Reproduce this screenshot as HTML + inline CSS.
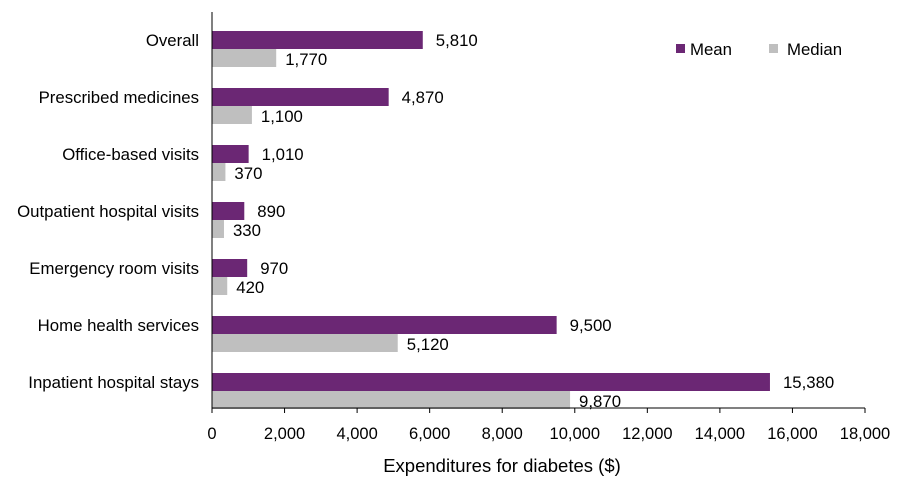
<!DOCTYPE html>
<html><head><meta charset="utf-8"><style>
body{margin:0;background:#fff;}
svg{font-family:"Liberation Sans",Arial,sans-serif;}
</style></head><body>
<svg id="chart" width="903" height="481"></svg>
<script>
const categories=["Overall","Prescribed medicines","Office-based visits","Outpatient hospital visits","Emergency room visits","Home health services","Inpatient hospital stays"];
const meanValues=[5810,4870,1010,890,970,9500,15380];
const medianValues=[1770,1100,370,330,420,5120,9870];
const xTicks=[0,2000,4000,6000,8000,10000,12000,14000,16000,18000];
const NS="http://www.w3.org/2000/svg";
const svg=document.getElementById('chart');
const x0=212,x1=865,xMax=18000;
const xs=v=>x0+(v/xMax)*(x1-x0);
const rowY=i=>40+i*57;
const fmt=v=>v.toLocaleString('en-US');
function el(t,a,txt){const e=document.createElementNS(NS,t);for(const k in a)e.setAttribute(k,a[k]);if(txt!==undefined)e.textContent=txt;svg.appendChild(e);return e;}
categories.forEach((c,i)=>{
  const y=rowY(i);
  const m=el('rect',{x:x0,y:y-9,width:xs(meanValues[i])-x0,height:18,fill:'#6b2774'});
  
  
  const d=el('rect',{x:x0,y:y+9,width:xs(medianValues[i])-x0,height:18,fill:'#bfbfbf'});
  
  
  const l=el('text',{x:199,y:y+6,'text-anchor':'end','font-size':16.8,fill:'#000'},c);
  
  
  const ml=el('text',{x:xs(meanValues[i])+13,y:y+6,'font-size':16.8,fill:'#000'},fmt(meanValues[i]));
  
  
  const dl=el('text',{x:xs(medianValues[i])+9,y:y+25,'font-size':16.8,fill:'#000'},fmt(medianValues[i]));
  
  
});
const ax=el('line',{x1:x0,y1:12,x2:x0,y2:408,stroke:'#000','stroke-width':1});


const bx=el('line',{x1:x0,y1:408,x2:x1,y2:408,stroke:'#000','stroke-width':1});


xTicks.forEach(t=>{
  el('line',{x1:xs(t),y1:408,x2:xs(t),y2:413,stroke:'#000'});
  const tl=el('text',{x:xs(t),y:439,'text-anchor':'middle','font-size':16.5,fill:'#000'},fmt(t));
  
  
});
const at=el('text',{x:502,y:472,'text-anchor':'middle','font-size':18.5,fill:'#000'},'Expenditures for diabetes ($)');


const lg1=el('rect',{x:676,y:44,width:9,height:9,fill:'#6b2774'});


const lt1=el('text',{x:690,y:55,'font-size':16.8,fill:'#000'},'Mean');


const lg2=el('rect',{x:769,y:44,width:9,height:9,fill:'#bfbfbf'});


const lt2=el('text',{x:787,y:55,'font-size':16.8,fill:'#000'},'Median');


</script>
</body></html>
